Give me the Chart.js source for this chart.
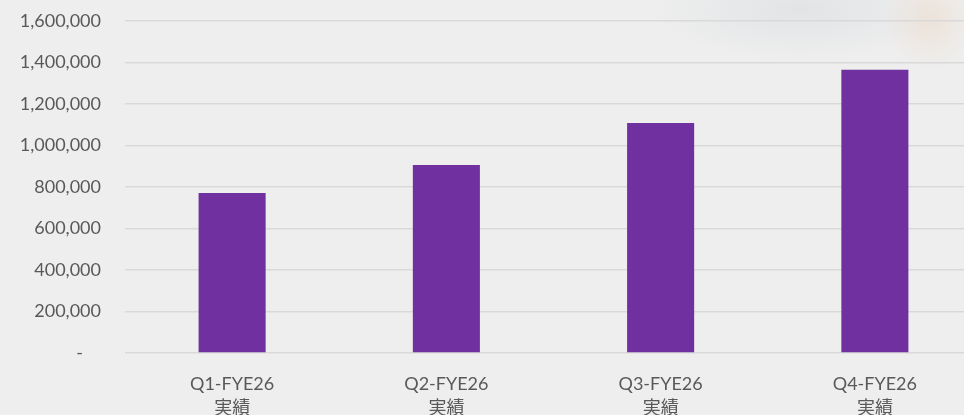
<!DOCTYPE html>
<html>
<head>
<meta charset="utf-8">
<script src="https://cdn.jsdelivr.net/npm/chart.js@4/dist/chart.umd.min.js"></script>
<style>
    html, body {
        margin: 0;
        padding: 0;
        width: 964px;
        height: 415px;
        overflow: hidden;
    }
    body {
        background:
            radial-gradient(ellipse 45px 50px at 930px 20px, rgba(236, 222, 208, 0.7), rgba(236, 222, 208, 0) 100%),
            radial-gradient(ellipse 150px 50px at 800px 10px, rgba(222, 225, 227, 0.8), rgba(222, 225, 227, 0) 100%),
            #eeeeee;
    }
    /* chart is a bit wider than the window and shifted up, the grid runs off the right edge */
    .wrap {
        position: relative;
        width: 1000px;
        height: 429px;
        margin-top: -14px;
    }
</style>
</head>
<body>
<div class="wrap"><canvas id="salesChart"></canvas></div>
<script>
// Chart data
const categories = [['Q1-FYE26', '実績'], ['Q2-FYE26', '実績'], ['Q3-FYE26', '実績'], ['Q4-FYE26', '実績']];
const values = [771000, 906000, 1108000, 1364000];
const yTicks = [0, 200000, 400000, 600000, 800000, 1000000, 1200000, 1400000, 1600000];

const textColor = '#595959';
const gridColor = '#d9d9d9';
const barColor = '#7030a0';

function formatTick(v) {
    if (v === 0) return '-\u2002\u2002';
    return v.toLocaleString('en-US');
}

document.addEventListener('DOMContentLoaded', function() {
    const ctx = document.getElementById('salesChart').getContext('2d');
    new Chart(ctx, {
        type: 'bar',
        data: {
            labels: categories,
            datasets: [{
                data: values,
                backgroundColor: barColor,
                borderWidth: 0,
                barPercentage: 0.313,
                categoryPercentage: 1
            }]
        },
        options: {
            responsive: true,
            maintainAspectRatio: false,
            animation: false,
            layout: { padding: { top: 8, right: 18, left: 0, bottom: 0 } },
            plugins: {
                legend: { display: false },
                tooltip: { enabled: false }
            },
            scales: {
                y: {
                    min: 0,
                    max: 1600000,
                    afterBuildTicks: function(scale) {
                        scale.ticks = yTicks.map(v => ({ value: v }));
                    },
                    afterFit: function(scale) { scale.width = 125; },
                    border: { display: false },
                    grid: { color: gridColor, lineWidth: 1.5, drawTicks: false },
                    ticks: {
                        color: textColor,
                        padding: 24,
                        font: { family: 'Lato, "Noto Sans CJK JP"', size: 18 },
                        callback: function(v) { return formatTick(v); }
                    }
                },
                x: {
                    afterFit: function(scale) { scale.height = 62; },
                    border: { display: false },
                    grid: { display: false, drawTicks: false },
                    ticks: {
                        color: textColor,
                        padding: 19,
                        maxRotation: 0,
                        font: { family: 'Lato, "Noto Sans CJK JP"', size: 18, lineHeight: 1.35 }
                    }
                }
            }
        }
    });
});
</script>
</body>
</html>
